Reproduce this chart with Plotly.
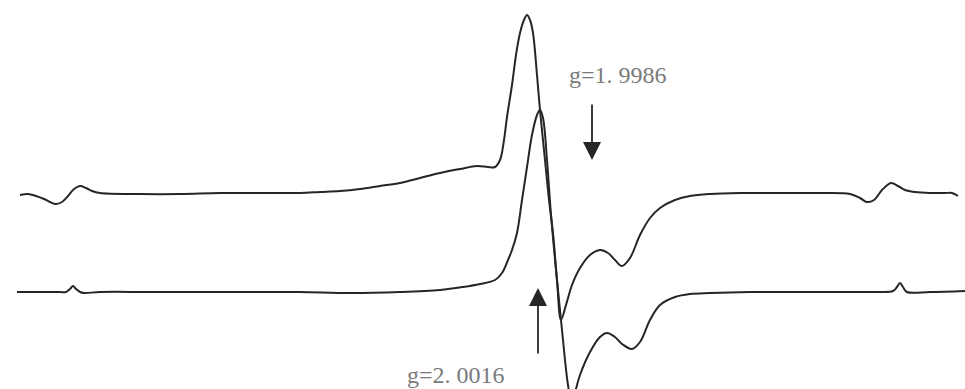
import plotly.graph_objects as go

# EPR spectra: two first-derivative traces drawn on a shared, hidden field axis.
# Field position (arbitrary units) and signal (arbitrary units).
field_a = [20, 28, 36, 44, 50, 56, 62, 68, 74, 80, 86, 92, 100, 140, 180, 220,
           260, 300, 320, 340, 360, 380, 400, 420, 440, 460, 477, 488, 495, 500,
           504, 507, 512, 516, 520, 524, 527, 530, 533, 537, 540, 545, 549, 553, 557,
           561, 566, 572, 580, 590, 600, 608, 615, 622, 630, 640, 650, 660, 675, 690,
           710, 740, 780, 820, 850, 860, 867, 874, 882, 891, 898, 905, 915, 930, 945,
           952, 958]
signal_a = [194, 195, 193, 190, 187, 185, 187, 193, 200, 203, 201, 198, 196, 195, 195,
            196, 196, 196, 197, 198, 200, 203, 206, 211, 216, 220, 223,
            222, 222, 229, 249, 272, 304, 334, 356, 369, 374, 369, 356, 314, 279, 229,
            189, 156, 109, 69, 84, 104, 121, 134, 139, 136, 129, 123, 131, 154, 171,
            181, 189, 193, 195, 196, 196, 196, 195, 191, 187, 189, 199, 206, 203, 199,
            197, 196, 196, 196, 193]

field_b = [17, 40, 60, 66, 70, 73, 76, 80, 84, 100, 150, 200, 250, 300, 350, 400, 440,
           463, 480, 495, 502, 508, 512, 517, 522, 527, 532, 537, 540, 543, 547, 551,
           556, 561, 565, 568, 571, 574, 580, 590, 600, 607, 615, 622, 632, 640, 650,
           660, 675, 690, 710, 750, 800, 850, 880, 893, 897, 900, 903, 907, 930, 965]
signal_b = [97, 97, 97, 97, 100, 103, 100, 97, 96, 97, 97, 97, 97, 97, 96, 97, 99, 102,
            105, 109, 116, 129, 139, 156, 189, 222, 254, 274, 279, 271, 229, 174, 119,
            69, 29, 4, -11, -6, 14, 37, 52, 56, 52, 45, 40, 47, 69, 84, 92, 95, 96, 97,
            97, 97, 97, 98, 102, 106, 102, 97, 97, 98]

labels = ["g=1. 9986", "g=2. 0016"]

line_style = dict(color="#262626", width=2)

fig = go.Figure()
fig.add_trace(go.Scatter(x=field_a, y=signal_a, mode="lines", line=line_style,
                         line_shape="spline", hoverinfo="skip"))
fig.add_trace(go.Scatter(x=field_b, y=signal_b, mode="lines", line=line_style,
                         line_shape="spline", hoverinfo="skip"))

label_font = dict(family="Liberation Serif, Times New Roman, serif", size=24, color="#7a7a7a")

# g-value labels
fig.add_annotation(x=618, y=314, text=labels[0], showarrow=False, font=label_font,
                   xref="x", yref="y")
fig.add_annotation(x=456, y=14, text=labels[1], showarrow=False, font=label_font,
                   xref="x", yref="y")

# arrows marking the two g positions
arrow_common = dict(showarrow=True, arrowhead=2, arrowsize=2.0, arrowwidth=1.8,
                    arrowcolor="#262626", text="", xref="x", yref="y",
                    axref="x", ayref="y", standoff=0)
fig.add_annotation(x=592, y=229, ax=592, ay=286, **arrow_common)
fig.add_annotation(x=538, y=101, ax=538, ay=34, **arrow_common)

fig.update_xaxes(range=[0, 965], visible=False)
fig.update_yaxes(range=[0, 389], visible=False)
fig.update_layout(
    width=965, height=389,
    margin=dict(l=0, r=0, t=0, b=0),
    paper_bgcolor="white", plot_bgcolor="white",
    showlegend=False,
)

fig.write_html("out.html")
